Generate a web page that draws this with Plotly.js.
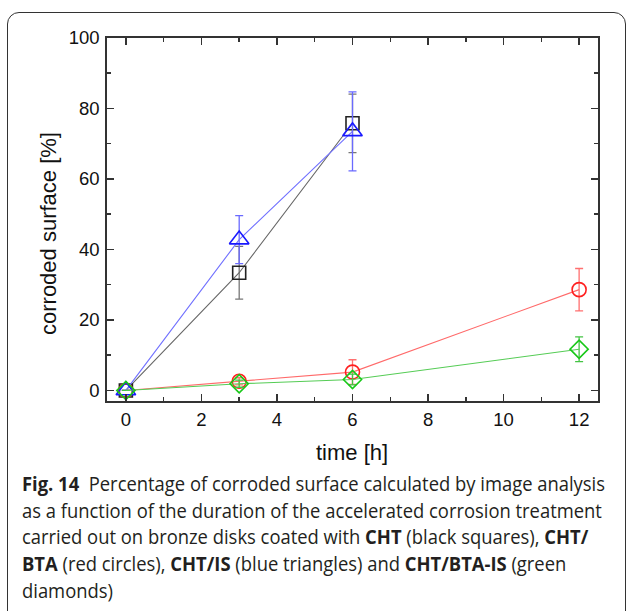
<!DOCTYPE html>
<html>
<head>
<meta charset="utf-8">
<script src="https://cdn.plot.ly/plotly-3.0.1.min.js"></script>
<style>
  html, body { margin: 0; padding: 0; background: #fff; overflow: hidden; }
  #wrap { position: relative; width: 627px; height: 611px; overflow: hidden; }
  #chart { position: absolute; left: 0; top: 0; width: 627px; height: 611px; }
  #frame { position: absolute; left: 7px; top: 12px; width: 619px; height: 640px;
           border: 1.3px solid #333; border-radius: 12px; pointer-events: none; box-sizing: border-box; }
  #caption { position: absolute; left: 22px; top: 471px; font-family: "Open Sans", "Noto Sans", sans-serif;
             font-size: 19.5px; line-height: 26.7px; color: #231f20; white-space: nowrap; transform-origin: 0 0; }
  #caption b { font-weight: 700; }
</style>
</head>
<body>
<div id="wrap">
  <div id="chart"></div>
  <div id="frame"></div>
  <div id="caption">
    <div id="l1"><b>Fig. 14</b>&nbsp; Percentage of corroded surface calculated by image analysis</div>
    <div>as a function of the duration of the accelerated corrosion treatment</div>
    <div>carried out on bronze disks coated with <b>CHT</b> (black squares), <b>CHT/</b></div>
    <div><b>BTA</b> (red circles), <b>CHT/IS</b> (blue triangles) and <b>CHT/BTA-IS</b> (green</div>
    <div>diamonds)</div>
  </div>
</div>
<script>
// ---- data ----
const timeCHT = [0, 3, 6];
const valCHT = [0, 33.4, 75.8];
const errCHT = [0, 7.5, 8.3];

const timeBTA = [0, 3, 6, 12];
const valBTA = [0, 2.6, 5.2, 28.6];
const errBTA = [0, 1.0, 3.5, 6.0];

const timeIS = [0, 3, 6];
const valIS = [0, 42.8, 73.5];
const errIS = [0, 6.8, 11.2];

const timeBTAIS = [0, 3, 6, 12];
const valBTAIS = [0, 1.9, 3.1, 11.7];
const errBTAIS = [0, 1.0, 1.5, 3.5];

const xTicks = [0, 2, 4, 6, 8, 10, 12];
const yTicks = [0, 20, 40, 60, 80, 100];

function series(x, y, e, sym, size, mcol, lcol, ecol) {
  return {
    x: x, y: y, type: 'scatter', mode: 'lines+markers',
    line: { color: lcol, width: 1.1 },
    marker: { symbol: sym, size: size, color: mcol, line: { color: mcol, width: 1.6 } },
    error_y: { type: 'data', array: e, visible: true, color: ecol, thickness: 1.3, width: 4 },
    showlegend: false, cliponaxis: false
  };
}

const traces = [
  series(timeCHT, valCHT, errCHT, 'square-open', 13, '#222222', '#666666', '#777777'),
  series(timeBTA, valBTA, errBTA, 'circle-open', 14, '#ff2020', '#ff6a6a', '#ff7070'),
  series(timeIS, valIS, errIS, 'triangle-up-open', 17, '#1a1aff', '#7070ff', '#6a6aff'),
  series(timeBTAIS, valBTAIS, errBTAIS, 'diamond-open', 14, '#18c818', '#55cc55', '#44c444')
];

const axisCommon = {
  showline: true, linecolor: '#333', linewidth: 1.8, mirror: 'ticks',
  ticks: 'inside', ticklen: 7, tickwidth: 1.5, tickcolor: '#333',
  showgrid: false, zeroline: false,
  tickfont: { family: 'Liberation Sans, Arial, sans-serif', size: 18.5, color: '#111' }
};

const layout = {
  width: 627, height: 611,
  margin: { l: 107, r: 29, t: 38, b: 210 },
  paper_bgcolor: 'rgba(0,0,0,0)', plot_bgcolor: 'rgba(0,0,0,0)',
  xaxis: Object.assign({}, axisCommon, {
    range: [-0.5, 12.5], tickvals: xTicks, ticktext: xTicks.map(String),
    minor: { dtick: 1, tick0: 0, ticks: 'inside', ticklen: 4, tickwidth: 1.5, tickcolor: '#333' },
    ticklabelstandoff: 1
  }),
  yaxis: Object.assign({}, axisCommon, {
    range: [-3, 100], tickvals: yTicks, ticktext: yTicks.map(String),
    minor: { dtick: 10, tick0: 0, ticks: 'inside', ticklen: 4, tickwidth: 1.5, tickcolor: '#333' },
    ticklabelstandoff: 2
  }),
  annotations: [
    { text: 'corroded surface [%]', xref: 'paper', yref: 'paper', x: (48 - 107) / 491, y: (401 - 234) / 363,
      xanchor: 'center', yanchor: 'middle', textangle: -90, showarrow: false,
      font: { family: 'Liberation Sans, Arial, sans-serif', size: 22, color: '#111' } },
    { text: 'time [h]', xref: 'paper', yref: 'paper', x: (352 - 107) / 491, y: (401 - 452) / 363,
      xanchor: 'center', yanchor: 'middle', showarrow: false,
      font: { family: 'Liberation Sans, Arial, sans-serif', size: 22, color: '#111' } }
  ]
};

Plotly.newPlot('chart', traces, layout, { staticPlot: true, displayModeBar: false });

// fit caption width: first line spans to ~605px
(function fit() {
  const l1 = document.getElementById('l1');
  const range = document.createRange();
  range.selectNodeContents(l1);
  const w = range.getBoundingClientRect().width;
  const target = 583;
  if (w > 0) document.getElementById('caption').style.transform = 'scaleX(' + (target / w) + ')';
})();
</script>
</body>
</html>
